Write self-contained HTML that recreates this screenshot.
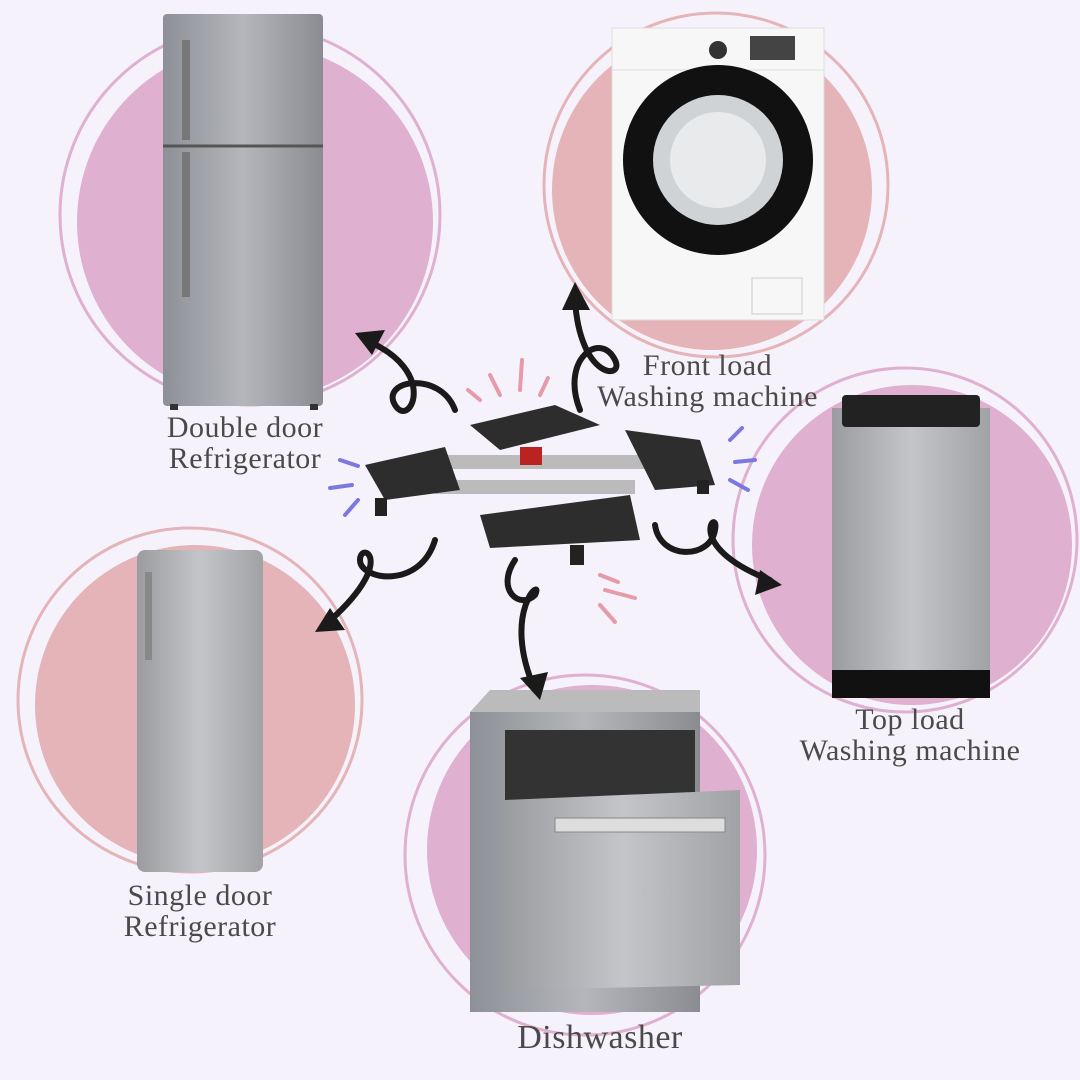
<!DOCTYPE html>
<html><head><style>
body{margin:0;background:#f6f2fb;}
.w{position:relative;width:1080px;height:1080px;overflow:hidden;background:#f6f2fb;font-family:"Liberation Serif",serif;color:#4a4a4a;}
.t{position:absolute;font-size:30px;line-height:31px;text-align:center;letter-spacing:0.5px}
</style></head><body><div class="w">
<svg width="1080" height="1080" style="position:absolute;left:0;top:0">
<defs>
<linearGradient id="s" x1="0" x2="1"><stop offset="0" stop-color="#8d9096"/><stop offset="0.5" stop-color="#b4b6bb"/><stop offset="1" stop-color="#8a8c91"/></linearGradient>
<linearGradient id="s2" x1="0" x2="1"><stop offset="0" stop-color="#9a9ca0"/><stop offset="0.5" stop-color="#c4c5c8"/><stop offset="1" stop-color="#a0a2a6"/></linearGradient>
</defs>
<!-- circles -->
<circle cx="255" cy="222" r="178" fill="#dfb0cf"/>
<circle cx="250" cy="215" r="190" fill="none" stroke="#dfb0cf" stroke-width="3"/>
<circle cx="712" cy="190" r="160" fill="#e4b4b8"/>
<circle cx="716" cy="185" r="172" fill="none" stroke="#e4b4b8" stroke-width="3"/>
<circle cx="912" cy="545" r="160" fill="#dfb0cf"/>
<circle cx="905" cy="540" r="172" fill="none" stroke="#dfb0cf" stroke-width="3"/>
<circle cx="195" cy="705" r="160" fill="#e4b4b8"/>
<circle cx="190" cy="700" r="172" fill="none" stroke="#e4b4b8" stroke-width="3"/>
<circle cx="592" cy="850" r="165" fill="#dfb0cf"/>
<circle cx="585" cy="855" r="180" fill="none" stroke="#dfb0cf" stroke-width="3"/>
<!-- double door fridge -->
<rect x="163" y="14" width="160" height="392" rx="4" fill="url(#s)"/>
<line x1="163" y1="146" x2="323" y2="146" stroke="#555" stroke-width="3"/>
<rect x="182" y="40" width="8" height="100" fill="#777"/>
<rect x="182" y="152" width="8" height="145" fill="#777"/>
<rect x="170" y="404" width="8" height="6" fill="#333"/><rect x="310" y="404" width="8" height="6" fill="#333"/>
<!-- front load washer -->
<rect x="612" y="28" width="212" height="292" fill="#f7f7f7" stroke="#ddd"/>
<line x1="612" y1="70" x2="824" y2="70" stroke="#ddd"/>
<rect x="750" y="36" width="45" height="24" fill="#444"/>
<circle cx="718" cy="50" r="9" fill="#333"/>
<circle cx="718" cy="160" r="95" fill="#111"/>
<circle cx="718" cy="160" r="65" fill="#cfd3d6"/>
<circle cx="718" cy="160" r="48" fill="#e8eaec"/>
<rect x="752" y="278" width="50" height="36" fill="none" stroke="#ccc"/>
<!-- top load -->
<rect x="832" y="408" width="158" height="280" fill="url(#s2)"/>
<rect x="842" y="395" width="138" height="32" rx="4" fill="#222"/>
<rect x="832" y="670" width="158" height="28" fill="#111"/>
<!-- single door fridge -->
<rect x="137" y="550" width="126" height="322" rx="8" fill="url(#s2)"/>
<rect x="145" y="572" width="7" height="88" fill="#888"/>
<!-- dishwasher -->
<path d="M470 712 L490 690 L700 690 L700 712 Z" fill="#bbb"/>
<rect x="470" y="712" width="230" height="300" fill="url(#s)"/>
<rect x="505" y="730" width="190" height="90" fill="#333"/>
<path d="M505 800 L740 790 L740 985 L505 990 Z" fill="url(#s2)"/>
<rect x="555" y="818" width="170" height="14" fill="#ddd" stroke="#888"/>
<!-- stand -->
<rect x="420" y="455" width="230" height="14" fill="#bbb"/>
<rect x="435" y="480" width="200" height="14" fill="#bbb"/>
<path d="M365 465 L445 447 L460 490 L385 500 Z" fill="#2d2d2d"/>
<path d="M470 425 L555 405 L600 425 L500 450 Z" fill="#2d2d2d"/>
<path d="M625 430 L700 440 L715 485 L655 490 Z" fill="#2d2d2d"/>
<path d="M480 515 L630 495 L640 540 L490 548 Z" fill="#2d2d2d"/>
<rect x="375" y="498" width="12" height="18" fill="#222"/><rect x="570" y="545" width="14" height="20" fill="#222"/><rect x="697" y="480" width="12" height="14" fill="#222"/>
<rect x="520" y="447" width="22" height="18" fill="#b22"/>
<!-- arrows -->
<g fill="none" stroke="#1a1a1a" stroke-width="6" stroke-linecap="round">
<path d="M455 410 C440 370 380 380 395 405 C410 430 440 370 365 340"/>
<path d="M580 410 C560 360 600 330 615 360 C625 380 580 380 575 300"/>
<path d="M655 525 C660 560 710 560 715 530 C720 505 680 545 770 580"/>
<path d="M435 540 C420 590 360 580 360 560 C360 540 400 560 325 625"/>
<path d="M515 560 C495 590 520 610 535 595 C545 575 500 610 535 690"/>
</g>
<g fill="#1a1a1a">
<path d="M355 333 L385 330 L372 355 Z"/><path d="M575 282 L590 310 L562 310 Z"/>
<path d="M782 585 L755 595 L760 570 Z"/><path d="M315 632 L330 608 L345 630 Z"/><path d="M540 700 L520 678 L548 672 Z"/>
</g>
<g stroke="#e79aa8" stroke-width="4" stroke-linecap="round">
<line x1="500" y1="395" x2="490" y2="375"/><line x1="520" y1="390" x2="522" y2="360"/><line x1="540" y1="395" x2="548" y2="378"/><line x1="480" y1="400" x2="468" y2="390"/>
<line x1="600" y1="575" x2="618" y2="582"/><line x1="605" y1="590" x2="635" y2="598"/><line x1="600" y1="605" x2="615" y2="622"/>
</g>
<g stroke="#7b78e0" stroke-width="4" stroke-linecap="round">
<line x1="340" y1="460" x2="358" y2="466"/><line x1="330" y1="488" x2="352" y2="485"/><line x1="345" y1="515" x2="358" y2="500"/>
<line x1="730" y1="440" x2="742" y2="428"/><line x1="735" y1="462" x2="755" y2="460"/><line x1="730" y1="480" x2="748" y2="490"/>
</g>
</svg>
<div class="t" style="left:140px;top:412px;width:210px">Double door<br>Refrigerator</div>
<div class="t" style="left:580px;top:350px;width:255px">Front load<br>Washing machine</div>
<div class="t" style="left:780px;top:704px;width:260px">Top load<br>Washing machine</div>
<div class="t" style="left:100px;top:880px;width:200px">Single door<br>Refrigerator</div>
<div class="t" style="left:480px;top:1022px;width:240px;font-size:34px">Dishwasher</div>
</div></body></html>
